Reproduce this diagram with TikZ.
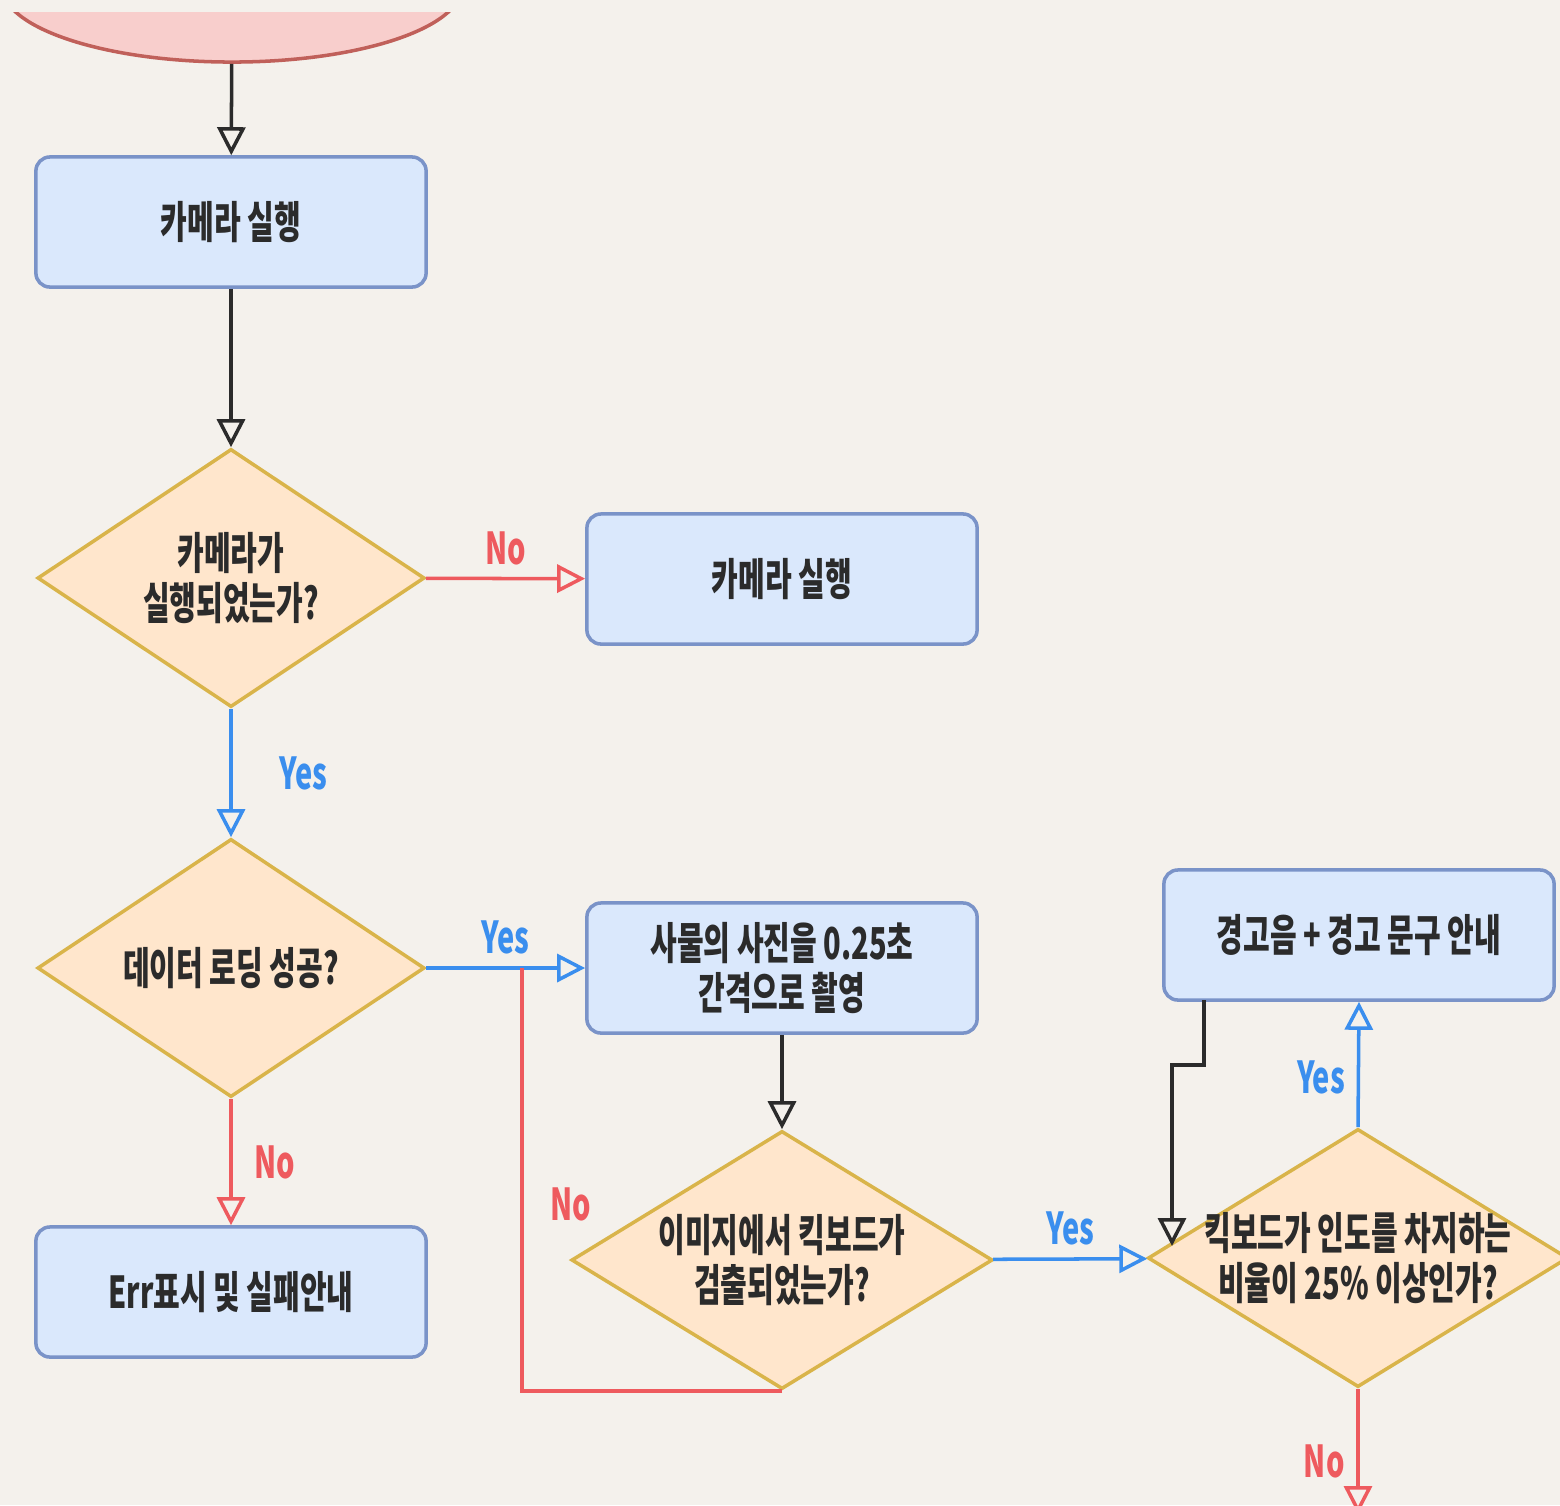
\documentclass[tikz,border=0pt]{standalone}
\usepackage{fontspec}
\newfontfamily\krfont[FakeStretch=0.66]{Noto Sans CJK KR}
\usetikzlibrary{shapes.geometric,arrows.meta}
\definecolor{paper}{HTML}{F4F1EC}
\definecolor{ink}{HTML}{2B2B2B}
\definecolor{boxfill}{HTML}{DAE8FC}
\definecolor{boxline}{HTML}{7A93C8}
\definecolor{decfill}{HTML}{FFE6CC}
\definecolor{decline}{HTML}{D9B44A}
\definecolor{startfill}{HTML}{F8CECC}
\definecolor{startline}{HTML}{C0605A}
\definecolor{yesblue}{HTML}{3A8EEE}
\definecolor{nored}{HTML}{EE5A5E}
\begin{document}
\begin{tikzpicture}[x=0.01cm,y=-0.01cm,
    kr/.style={font=\krfont\bfseries\fontsize{12.5}{14}\selectfont},
    box/.style={kr, draw=boxline, fill=boxfill, rounded corners=0.14cm, line width=1pt,
      minimum width=3.9cm, minimum height=1.3cm, align=center, text=ink},
    decision/.style={diamond, draw=decline, fill=decfill, line width=1pt,
      minimum width=3.87cm, minimum height=2.58cm, inner sep=0pt},
    txt/.style={kr, align=center, text=ink},
    flow/.style={draw=ink, line width=1pt, -{Triangle[open,length=2.8mm,width=2.8mm]}},
    yes/.style={flow, draw=yesblue},
    no/.style={flow, draw=nored},
    yeslbl/.style={kr, text=yesblue},
    nolbl/.style={kr, text=nored}]
  \useasboundingbox (0,0) rectangle (1560,1505);
  \fill [paper] (0,0) rectangle (1560,1505);
  \clip (0,0) rectangle (1560,1505);

  \begin{scope}
    \clip (0,12) rectangle (1560,120);
    \node [ellipse, draw=startline, fill=startfill, line width=1pt,
      minimum width=4.6cm, minimum height=1.52cm] (start) at (232,-14) {};
  \end{scope}
  \node [box] (cam) at (231,222) {카메라 실행};
  \node [decision, label={[txt]center:{카메라가\\실행되었는가?}}] (camok) at (231,578) {};
  \node [box] (camrun) at (782,579) {카메라 실행};
  \node [decision, label={[txt]center:{데이터 로딩 성공?}}] (load) at (231,968) {};
  \node [box] (shot) at (782,968) {사물의 사진을 0.25초\\간격으로 촬영};
  \node [box] (err) at (231,1292) {Err표시 및 실패안내};
  \node [decision, minimum width=4.21cm, label={[txt]center:{이미지에서 킥보드가\\검출되었는가?}}] (detect) at (782,1260) {};
  \node [decision, minimum width=4.2cm, label={[txt]center:{킥보드가 인도를 차지하는\\비율이 25\% 이상인가?}}] (ratio) at (1358,1258) {};
  \node [box] (warn) at (1359,935) {경고음 + 경고 문구 안내};

  \coordinate (join) at (522,968);
  \coordinate (back) at (1204,1000);
  \coordinate (hit) at (1172,1246);
  \coordinate (exit) at (1358,1514);

  \draw [flow] (start) -- (cam);
  \draw [flow] (cam) -- (camok);
  \draw [no] (camok) -- (camrun) node [midway, above, nolbl] {No};
  \draw [yes] (camok) -- (load) node [midway, right=3.5mm, yeslbl] {Yes};
  \draw [yes] (load) -- (shot) node [midway, above, yeslbl] {Yes};
  \draw [no] (load) -- (err) node [midway, right=1mm, nolbl] {No};
  \draw [flow] (shot) -- (detect);
  \draw [draw=nored, line width=1pt] (detect.south) -| (join) node [pos=0.72, right=1.5mm, nolbl] {No};
  \draw [yes] (detect) -- (ratio) node [midway, above, yeslbl] {Yes};
  \draw [yes] (ratio.north) -- (warn.south) node [pos=0.4, left, yeslbl] {Yes};
  \draw [flow] (back) -- ++(0,65) -| (hit);
  \draw [no] (ratio.south) -- (exit) node [pos=0.58, left, nolbl] {No};
\end{tikzpicture}
\end{document}
